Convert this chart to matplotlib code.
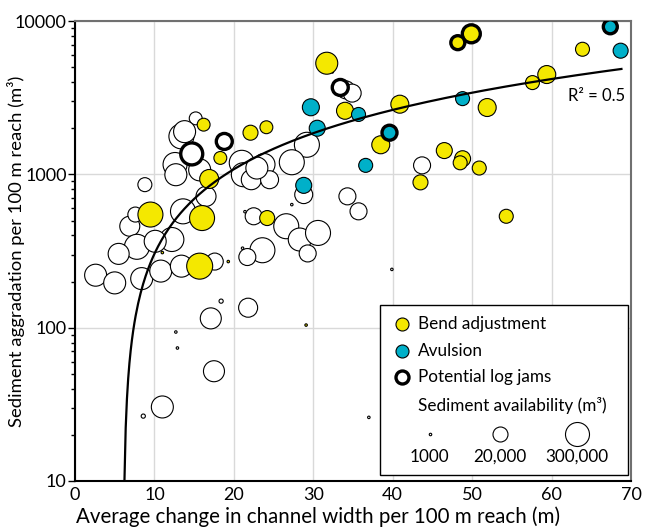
import numpy as np
import matplotlib
matplotlib.use('Agg')
import matplotlib.pyplot as plt
from matplotlib.patches import Rectangle

plt.rcParams['font.family'] = ['Lato', 'DejaVu Sans']

# Bend adjustment points: width change (m), aggradation (m3), sediment availability (m3)
bend_x = [63.9, 59.4, 57.6, 51.9, 40.9, 46.5, 48.8, 48.5, 50.9, 43.5, 54.3,
          31.7, 34.0, 38.5, 16.2, 22.1, 24.1, 18.3, 16.9, 9.5, 16.0, 24.2,
          15.7, 11.0, 19.3, 29.1]
bend_y = [6550, 4480, 3970, 2730, 2870, 1430, 1265, 1190, 1100, 887, 533,
          5310, 2600, 1560, 2110, 1870, 2030, 1280, 933, 547, 519, 519,
          252, 309, 270, 104]
bend_v = [15700, 49000, 15700, 49000, 49000, 27000, 27000, 15700, 15700, 20000, 15700,
          164000, 36500, 49000, 12000, 20000, 12000, 12000, 67000, 405000, 405000, 20000,
          547000, 1000, 1000, 1000]

# Bend adjustment with potential log jams
bendjam_x = [49.9, 48.2]
bendjam_y = [8260, 7230]
bendjam_v = [49000, 15700]

# Avulsion points
avul_x = [68.7, 48.8, 29.7, 35.7, 30.5, 36.6, 28.8]
avul_y = [6410, 3120, 2740, 2460, 2000, 1145, 848]
avul_v = [20000, 15700, 36500, 15700, 27000, 15700, 27000]

# Avulsion with potential log jams
avuljam_x = [67.4, 39.6]
avuljam_y = [9180, 1870]
avuljam_v = [15700, 20000]

# Other reaches
other_x = [43.7, 34.1, 34.9, 29.2, 27.3, 28.8, 34.3, 35.7, 15.2, 13.4,
           13.8, 12.6, 12.7, 15.7, 21.0, 21.2, 22.2, 23.8, 24.5, 16.5,
           8.8, 6.9, 7.8, 5.5, 2.6, 5.0, 8.4, 10.8, 12.2, 13.6,
           17.6, 17.1, 17.5, 11.0, 21.8, 23.6, 21.7, 22.5, 26.6, 28.3,
           30.6, 29.3, 13.4, 10.1, 7.6, 18.4, 8.6, 12.7, 12.9, 21.4,
           21.1, 39.9, 37.0, 27.3, 32.4, 22.9]
other_y = [1145, 3560, 3390, 1560, 1200, 738, 719, 574, 2320, 1770,
           1900, 1160, 995, 1070, 1190, 995, 923, 1160, 923, 719,
           857, 459, 337, 303, 220, 196, 209, 234, 376, 574,
           270, 115, 52, 30.4, 135, 320, 289, 533, 459, 376,
           415, 305, 252, 366, 547, 149, 26.5, 93.7, 73.7, 571,
           330, 240, 26, 635, 4660, 1100]
other_v = [36500, 49000, 49000, 405000, 405000, 49000, 36500, 36500, 12000, 405000,
           164000, 300000, 164000, 164000, 405000, 300000, 90000, 164000, 49000, 90000,
           15700, 90000, 405000, 122000, 164000, 164000, 164000, 164000, 300000, 405000,
           36500, 122000, 122000, 164000, 67000, 405000, 36500, 36500, 405000, 220000,
           405000, 36500, 164000, 164000, 20000, 1500, 1500, 1000, 1000, 1000,
           1000, 1000, 1000, 1000, 1000, 164000]

# Other reaches with potential log jams
otherjam_x = [33.4, 18.8, 14.7]
otherjam_y = [3690, 1640, 1360]
otherjam_v = [27000, 27000, 164000]

# linear trend line (y = a*x + b), R2 = 0.5
trend_a = 77.7
trend_b = -474.0

size_legend_v = [1000, 20000, 300000]
size_legend_lab = ['1000', '20,000', '300,000']

yellow = '#f4e800'
cyan = '#00b0c9'


def msize(v):
    # marker diameter in px from sediment availability, then points^2
    d = np.interp(np.log10(v), [2, 3, 4.301, 5.477, 6.0], [1, 2.5, 15, 24, 28])
    return (d * 0.72) ** 2


fig = plt.figure(figsize=(6.48, 5.27), dpi=100)
ax = fig.add_axes([0.1157, 0.0873, 0.858, 0.8727])

ax.scatter(other_x, other_y, s=msize(np.array(other_v)), c='white',
           edgecolors='black', linewidths=0.8, zorder=3)
ax.scatter(otherjam_x, otherjam_y, s=msize(np.array(otherjam_v)), c='white',
           edgecolors='black', linewidths=2.4, zorder=3)
ax.scatter(bend_x, bend_y, s=msize(np.array(bend_v)), c=yellow,
           edgecolors='black', linewidths=0.8, zorder=4)
ax.scatter(bendjam_x, bendjam_y, s=msize(np.array(bendjam_v)), c=yellow,
           edgecolors='black', linewidths=2.4, zorder=4)
ax.scatter(avul_x, avul_y, s=msize(np.array(avul_v)), c=cyan,
           edgecolors='black', linewidths=0.8, zorder=5)
ax.scatter(avuljam_x, avuljam_y, s=msize(np.array(avuljam_v)), c=cyan,
           edgecolors='black', linewidths=2.4, zorder=5)

x0 = (10 - trend_b) / trend_a
xt = np.linspace(x0, 68.8, 400)
ax.plot(xt, trend_a * xt + trend_b, c='black', lw=1.6, zorder=6)
ax.text(0.99, 0.838, 'R² = 0.5', transform=ax.transAxes, ha='right',
        va='center', fontsize=12, zorder=7)

ax.set_yscale('log')
ax.set(xlim=(0, 70), ylim=(10, 10000))
ax.set_xticks(range(0, 71, 10))
ax.set_yticks([10, 100, 1000, 10000])
ax.set_yticklabels(['10', '100', '1000', '10000'])
ax.tick_params(axis='x', length=0, labelsize=13, pad=4)
ax.tick_params(axis='y', which='major', length=5, width=1, labelsize=13, pad=1)
ax.tick_params(axis='y', which='minor', length=3, width=1)
ax.grid(True, which='major', color='#d9d9d9', lw=1)
ax.set_axisbelow(True)
for side in ['left', 'bottom']:
    ax.spines[side].set_color('black')
    ax.spines[side].set_linewidth(1.5)
for side in ['top', 'right']:
    ax.spines[side].set_color('#707070')
    ax.spines[side].set_linewidth(1.5)

ax.set_xlabel('Average change in channel width per 100 m reach (m)', fontsize=14.8)
ax.xaxis.set_label_coords(0.437, -0.056)
ax.set_ylabel('Sediment aggradation per 100 m reach (m³)', fontsize=13.3)
ax.yaxis.set_label_coords(-0.09, 0.5)

# legend box
ax.add_patch(Rectangle((0.5486, 0.013), 0.446, 0.3696, transform=ax.transAxes,
                       facecolor='white', edgecolor='black', lw=1, zorder=8))
rows = [(0.341, yellow, 0.8, 'Bend adjustment'),
        (0.283, cyan, 0.8, 'Avulsion'),
        (0.226, 'white', 2.4, 'Potential log jams')]
for yy, fc, lw, lab in rows:
    ax.scatter([0.588], [yy], s=(13 * 0.72) ** 2, c=fc, edgecolors='black',
               linewidths=lw, transform=ax.transAxes, zorder=9, clip_on=False)
    ax.text(0.617, yy, lab, transform=ax.transAxes, va='center',
            fontsize=12.3, zorder=9)
ax.text(0.617, 0.165, 'Sediment availability (m³)', transform=ax.transAxes,
        va='center', fontsize=12.3, zorder=9)
for xx, v, lab in zip([0.638, 0.764, 0.903], size_legend_v, size_legend_lab):
    ax.scatter([xx], [0.103], s=msize(v), c='white', edgecolors='black',
               linewidths=0.8, transform=ax.transAxes, zorder=9, clip_on=False)
    ax.text(xx, 0.052, lab, transform=ax.transAxes, ha='center', va='center',
            fontsize=12.3, zorder=9)

plt.savefig('out.png', dpi=100)
